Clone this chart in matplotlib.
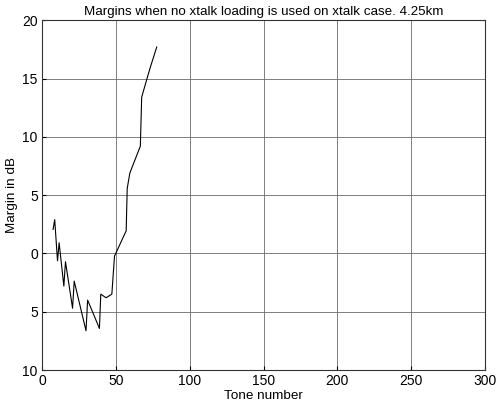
import matplotlib.pyplot as plt
import numpy as np

plt.rcParams['font.family'] = ['Liberation Sans', 'DejaVu Sans']

# Breakpoints of the margin curve (tone number, margin in dB)
tone = [7.5, 8.6, 10.5, 11.6, 14.8, 15.9, 20.7, 21.8, 29.8, 30.9, 38.9, 39.8,
        43.4, 47.3, 49.1, 57.0, 57.7, 59.5, 66.6, 67.5, 70.9, 73.2, 77.7]
margin = [2.06, 2.9, -0.63, 0.91, -2.8, -0.71, -4.7, -2.37, -6.63, -4.0, -6.43, -3.49,
          -3.8, -3.49, -0.23, 1.94, 5.57, 6.9, 9.2, 13.4, 14.9, 15.9, 17.7]

xticks = [0, 50, 100, 150, 200, 250, 300]
yticks = [-10, -5, 0, 5, 10, 15, 20]
ytick_labels = ['10', '5', '0', '5', '10', '15', '20']

fig = plt.figure(figsize=(5.0, 4.04), dpi=100)
ax = fig.add_axes([0.084, 0.084, 0.886, 0.866])

ax.plot(tone, margin, color='black', linewidth=0.8)

ax.set_xlim(0, 300)
ax.set_ylim(-10, 20)
ax.set_xticks(xticks)
ax.set_yticks(yticks)
ax.set_yticklabels(ytick_labels)
ax.tick_params(direction='in', length=3, labelsize=10, pad=3)
ax.grid(True, color='#6a6a6a', linewidth=0.6)
for s in ax.spines.values():
    s.set_linewidth(0.8)
    s.set_color('#333333')

ax.set_xlabel('Tone number', fontsize=9.7, labelpad=1)
ax.set_ylabel('Margin in dB', fontsize=9.7, labelpad=3)
ax.set_title('Margins when no xtalk loading is used on xtalk case. 4.25km', fontsize=9.6, pad=4)

fig.savefig('out.png', dpi=100)
